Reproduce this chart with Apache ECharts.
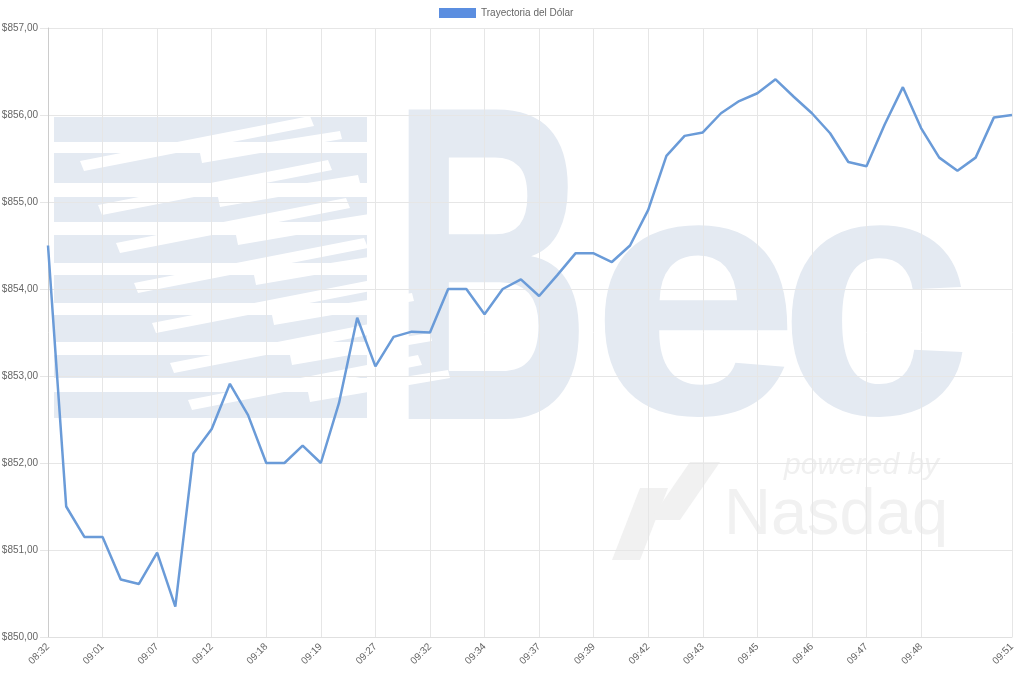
<!DOCTYPE html>
<html>
<head>
<meta charset="utf-8">
<script src="https://cdn.jsdelivr.net/npm/echarts@6/dist/echarts.min.js"></script>
<style>
html,body{margin:0;padding:0;background:#fff;}
#chart{width:1024px;height:674px;}
</style>
</head>
<body>
<div id="chart"></div>
<script>
const seriesName = 'Trayectoria del Dólar';
const categories = [
  '08:32','08:45','08:55','09:01','09:03','09:05','09:07','09:09','09:11','09:12',
  '09:14','09:16','09:18','09:18','09:19','09:19','09:22','09:25','09:27','09:29',
  '09:31','09:32','09:33','09:33','09:34','09:35','09:36','09:37','09:38','09:38',
  '09:39','09:40','09:41','09:42','09:42','09:43','09:43','09:44','09:44','09:45',
  '09:45','09:46','09:46','09:46','09:47','09:47','09:47','09:48','09:48','09:49',
  '09:49','09:50','09:50','09:51'
];
const values = [
  854.50, 851.50, 851.15, 851.15, 850.66, 850.61, 850.97, 850.35, 852.11, 852.39,
  852.91, 852.55, 852.00, 852.00, 852.20, 852.00, 852.69, 853.67, 853.11, 853.45,
  853.51, 853.50, 854.00, 854.00, 853.71, 854.00, 854.11, 853.92, 854.16, 854.41,
  854.41, 854.31, 854.50, 854.91, 855.53, 855.76, 855.80, 856.02, 856.16, 856.25,
  856.41, 856.21, 856.02, 855.79, 855.46, 855.41, 855.89, 856.32, 855.85, 855.51,
  855.36, 855.51, 855.97, 856.00
];
const yMin = 850, yMax = 857, yStep = 1;
const labelEvery = 3;
const lastRegularLabel = 48;

const FONT = '"Liberation Sans", Arial, sans-serif';
const last = categories.length - 1;
const showIdx = (i) => (i % labelEvery === 0 && i <= lastRegularLabel) || i === last;

// decorative watermark (background image in the original)
const wm = '#e4eaf2';
const decor = [];
const bands = [[117,142],[153,183],[197,222],[235,263],[275,303],[315,342],[355,378],[392,418]];
bands.forEach(b => {
  decor.push({type:'rect', z:-10, shape:{x:54, y:b[0], width:313, height:b[1]-b[0]}, style:{fill:wm}});
});
for (let k = 0; k < 7; k++) {
  const yb = bands[k+1][0] + 8;
  const x0 = 80 + k*18;
  decor.push({type:'polygon', z:-9, shape:{points:[[x0,yb],[x0+230,yb-45],[x0+234,yb-35],[x0+4,yb+10]]}, style:{fill:'#fff'}});
  decor.push({type:'polygon', z:-9, shape:{points:[[x0+120,yb-8],[x0+260,yb-30],[x0+262,yb-22],[x0+122,yb+2]]}, style:{fill:'#fff'}});
}
decor.push({type:'text', z:-10, x:390, y:70, scaleX:0.62, style:{text:'B', font:'bold 450px ' + FONT, fill:wm}});
decor.push({type:'text', z:-10, x:590, y:142, scaleX:1.08, style:{text:'e', font:'bold 350px ' + FONT, fill:wm}});
decor.push({type:'text', z:-10, x:778, y:142, scaleX:1.0, style:{text:'c', font:'bold 350px ' + FONT, fill:wm}});
decor.push({type:'text', z:-10, x:784, y:451, style:{text:'powered by', font:'italic 30px ' + FONT, fill:'#f0f0f0'}});
decor.push({type:'text', z:-10, x:724, y:484, style:{text:'Nasdaq', font:'65px ' + FONT, fill:'#f1f1f1'}});
decor.push({type:'polygon', z:-10, shape:{points:[[612,560],[640,488],[668,488],[640,560]]}, style:{fill:'#f1f1f1'}});
decor.push({type:'polygon', z:-10, shape:{points:[[650,520],[690,462],[720,462],[680,520]]}, style:{fill:'#f1f1f1'}});

const chart = echarts.init(document.getElementById('chart'), null, {renderer:'canvas'});
chart.setOption({
  animation: false,
  backgroundColor: '#fff',
  textStyle: {fontFamily: FONT},
  graphic: decor,
  legend: {
    top: 3,
    left: 434,
    icon: 'rect',
    itemWidth: 37,
    itemHeight: 10,
    itemGap: 10,
    textStyle: {color: '#666', fontSize: 10, fontFamily: FONT},
    data: [{name: seriesName, itemStyle: {color: '#5b8ee0'}}]
  },
  grid: {left: 48, right: 12, top: 28, bottom: 37, containLabel: false, outerBoundsMode: 'none'},
  xAxis: {
    type: 'category',
    data: categories,
    boundaryGap: false,
    axisLine: {show: true, lineStyle: {color: '#e0e0e0'}},
    axisTick: {show: false},
    axisLabel: {interval: (i) => showIdx(i), rotate: 45, color: '#666', fontSize: 10, margin: 8, fontFamily: FONT},
    splitLine: {show: true, interval: (i) => showIdx(i), lineStyle: {color: '#e6e6e6', width: 1}}
  },
  yAxis: {
    type: 'value',
    min: yMin,
    max: yMax,
    interval: yStep,
    axisLine: {show: true, lineStyle: {color: '#cccccc'}},
    axisTick: {show: true, length: 8, lineStyle: {color: '#e6e6e6'}},
    axisLabel: {color: '#666', fontSize: 10, margin: 10, fontFamily: FONT,
      formatter: (v) => '$' + v.toFixed(2).replace('.', ',')},
    splitLine: {show: true, lineStyle: {color: '#e6e6e6', width: 1}}
  },
  series: [{
    name: seriesName,
    type: 'line',
    data: values,
    showSymbol: false,
    symbol: 'none',
    smooth: false,
    lineStyle: {color: '#6a9bd8', width: 2.5},
    itemStyle: {color: '#5b8ee0'},
    z: 3
  }]
});
</script>
</body>
</html>
